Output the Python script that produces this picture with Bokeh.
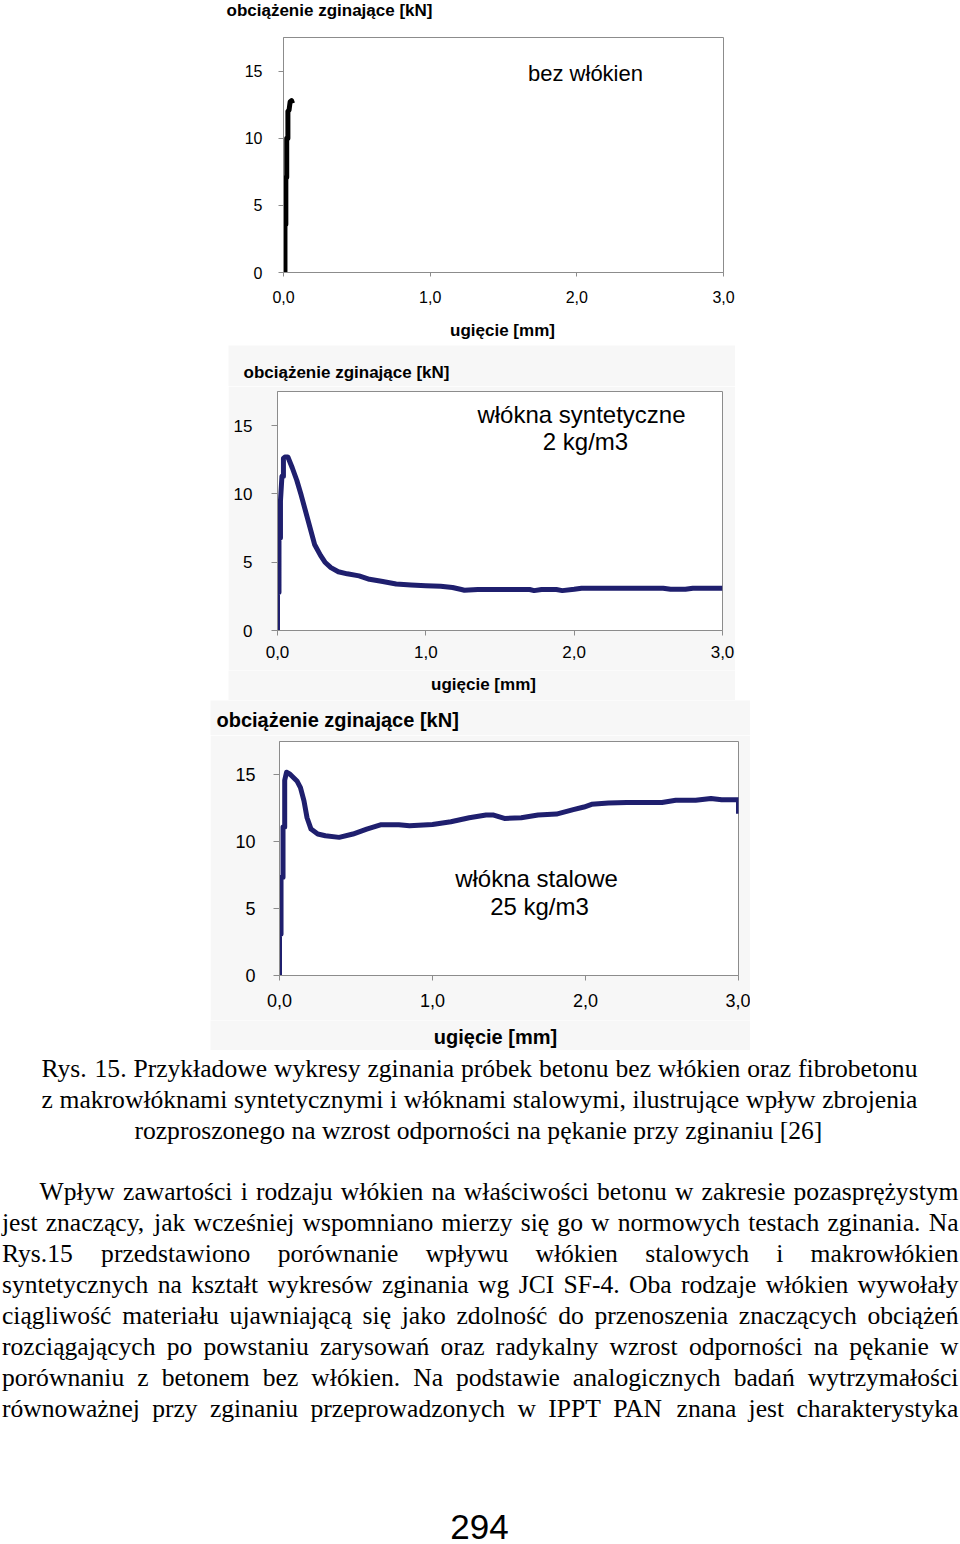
from bokeh.plotting import figure
from bokeh.models import Range1d, FixedTicker, Label, ColumnDataSource, Spacer
from bokeh.layouts import column, row
from bokeh.core.properties import value
from bokeh.embed import file_html
from bokeh.resources import INLINE

# ---------------- data ----------------
x_ticks = [0, 1, 2, 3]
x_tick_labels = ["0,0", "1,0", "2,0", "3,0"]
y_ticks = [0, 5, 10, 15]
y_tick_labels = ["0", "5", "10", "15"]

# chart 1: bez włókien
defl_bez = [0.010, 0.010, 0.016, 0.016, 0.022, 0.022, 0.030, 0.030, 0.038, 0.045, 0.055, 0.062]
load_bez = [0.0, 3.6, 3.6, 7.1, 7.1, 10.0, 10.0, 12.0, 12.1, 12.7, 12.8, 12.6]

# chart 2: włókna syntetyczne 2 kg/m3
defl_syn = [0.0, 0.0, 0.01, 0.01, 0.02, 0.02, 0.03, 0.04, 0.04, 0.05, 0.07, 0.10, 0.13, 0.16,
            0.20, 0.25, 0.29, 0.32, 0.36, 0.41, 0.47, 0.55, 0.62, 0.70, 0.80, 0.90, 1.00, 1.10,
            1.18, 1.24, 1.26, 1.35, 1.50, 1.70, 1.73, 1.78, 1.88, 1.92, 2.00, 2.05, 2.30, 2.60,
            2.65, 2.75, 2.80, 3.00]
load_syn = [0.0, 2.8, 2.8, 6.8, 6.8, 9.5, 11.3, 11.3, 12.6, 12.7, 12.7, 11.9, 11.0, 9.9,
            8.3, 6.3, 5.5, 5.0, 4.6, 4.3, 4.15, 4.0, 3.75, 3.6, 3.4, 3.33, 3.28, 3.24,
            3.15, 3.0, 2.95, 3.0, 3.0, 3.0, 2.92, 3.0, 3.0, 2.92, 3.02, 3.1, 3.1, 3.1,
            3.02, 3.02, 3.1, 3.1]

# chart 3: włókna stalowe 25 kg/m3
defl_st = [0.0, 0.0, 0.01, 0.01, 0.023, 0.023, 0.034, 0.034, 0.046, 0.069, 0.114, 0.137, 0.16,
           0.18, 0.206, 0.25, 0.30, 0.39, 0.48, 0.57, 0.66, 0.78, 0.85, 1.00, 1.12, 1.24, 1.35,
           1.40, 1.47, 1.58, 1.69, 1.81, 1.92, 1.99, 2.04, 2.15, 2.27, 2.50, 2.59, 2.72, 2.82,
           2.89, 3.00, 3.00]
load_st = [0.0, 3.1, 3.1, 7.35, 7.35, 11.1, 11.1, 14.6, 15.2, 15.05, 14.55, 14.05, 13.06,
           11.8, 10.95, 10.58, 10.45, 10.33, 10.58, 10.95, 11.27, 11.27, 11.2, 11.3, 11.5, 11.8, 12.0,
           12.0, 11.75, 11.8, 12.0, 12.07, 12.4, 12.6, 12.8, 12.9, 12.94, 12.94, 13.1, 13.1, 13.24,
           13.14, 13.14, 12.1]

y_title = "obciążenie zginające [kN]"
x_title = "ugięcie [mm]"
label_bez = "bez włókien"
label_syn = ["włókna syntetyczne", "2 kg/m3"]
label_st = ["włókna stalowe", "25 kg/m3"]

caption_lines = [
    "Rys. 15. Przykładowe wykresy zginania próbek betonu bez włókien oraz fibrobetonu",
    "z makrowłóknami syntetycznymi i włóknami stalowymi, ilustrujące wpływ zbrojenia",
    "rozproszonego na wzrost odporności na pękanie przy zginaniu [26]",
]
paragraph_lines = [
    "Wpływ zawartości i rodzaju włókien na właściwości betonu w zakresie pozasprężystym",
    "jest znaczący, jak wcześniej wspomniano mierzy się go w normowych testach zginania. Na",
    "Rys.15 przedstawiono porównanie wpływu włókien stalowych i makrowłókien",
    "syntetycznych na kształt wykresów zginania wg JCI SF-4. Oba rodzaje włókien wywołały",
    "ciągliwość materiału ujawniającą się jako zdolność do przenoszenia znaczących obciążeń",
    "rozciągających po powstaniu zarysowań oraz radykalny wzrost odporności na pękanie w",
    "porównaniu z betonem bez włókien. Na podstawie analogicznych badań wytrzymałości",
    "równoważnej przy zginaniu przeprowadzonych w IPPT PAN znana jest charakterystyka",
]
page_number = "294"

# ---------------- styles ----------------
SANS = "Liberation Sans"
SERIF = "Liberation Serif"
FRAME = "#8c8c8c"
NAVY = "#1f1f6e"
PANEL = "#f7f7f7"


def make_chart(W, H, ml, mr, mt, mb, bg, tick_size, xt_out, yt_out, x_stand, y_stand):
    p = figure(width=W, height=H, x_range=Range1d(0, 3), y_range=Range1d(0, 17.5),
               output_backend="svg", toolbar_location=None, title=None,
               min_border_left=ml, min_border_right=mr, min_border_top=mt, min_border_bottom=mb)
    p.border_fill_color = bg
    p.background_fill_color = "white"
    p.outline_line_color = FRAME
    p.outline_line_width = 1
    p.grid.visible = False
    p.xaxis.ticker = FixedTicker(ticks=x_ticks)
    p.xaxis.major_label_overrides = dict(zip(x_ticks, x_tick_labels))
    p.yaxis.ticker = FixedTicker(ticks=y_ticks)
    p.yaxis.major_label_overrides = dict(zip(y_ticks, y_tick_labels))
    for ax in (p.xaxis, p.yaxis):
        ax.axis_line_color = FRAME
        ax.major_tick_line_color = FRAME
        ax.minor_tick_line_color = None
        ax.major_tick_in = 0
        ax.major_label_text_font = SANS
        ax.major_label_text_font_size = f"{tick_size}px"
        ax.major_label_text_color = "black"
    p.xaxis.major_tick_out = xt_out
    p.yaxis.major_tick_out = yt_out
    p.xaxis.major_label_standoff = x_stand
    p.yaxis.major_label_standoff = y_stand
    return p


def add_text(p, geom, txt, px, py, size):
    # in-frame annotation; geom: (page x of figure, page y of figure, ml, mt, frame height)
    ox, oy, ml, mt, fh = geom
    p.add_layout(Label(x=px - (ox + ml), y=(oy + mt + fh) - py, x_units="screen", y_units="screen",
                       text=txt, text_font=SANS, text_font_size=f"{size}px",
                       text_align="center", text_baseline="middle", text_color="black"))


def strip(x0, y0, w, h, bg, items):
    # a text-only band; its data space is the page's own pixel space
    s = figure(width=w, height=h, x_range=Range1d(x0, x0 + w), y_range=Range1d(y0 + h, y0),
               output_backend="svg", toolbar_location=None, title=None,
               x_axis_type=None, y_axis_type=None, min_border=0)
    s.outline_line_color = None
    s.grid.visible = False
    s.background_fill_color = bg
    s.border_fill_color = bg
    for txt, x, y, size, align in items:
        s.text(x=[x], y=[y], text=[txt], text_font=value(SANS), text_font_size=f"{size}px",
               text_font_style="bold", text_align=align, text_baseline="middle",
               text_color="black")
    return s


# ---------------- chart 1 (page y 0..345) ----------------
s1a = strip(0, 0, 960, 30, "white", [(y_title, 226, 10, 17, "left")])
p1 = make_chart(960, 288, 283, 237, 7, 46, "white", 16, 4, 5, 14, 16)
p1.line(defl_bez, load_bez, line_color="black", line_width=5, line_join="round")
add_text(p1, (0, 30, 283, 7, 235), label_bez, 585, 73, 22)
s1b = strip(0, 318, 960, 27, "white", [(x_title, 502, 330, 17, "center")])

# ---------------- chart 2 (page y 345..700, x 228..735) ----------------
s2a = strip(228, 345, 507, 41, PANEL, [(y_title, 243, 372, 17, "left")])
p2 = make_chart(507, 284, 49, 13, 5, 40, PANEL, 17, 5, 6, 10, 19)
p2.line(defl_syn, load_syn, line_color=NAVY, line_width=5, line_join="round")
add_text(p2, (228, 386, 49, 5, 239), label_syn[0], 581, 414, 24)
add_text(p2, (228, 386, 49, 5, 239), label_syn[1], 585, 441, 24)
s2b = strip(228, 670, 507, 30, PANEL, [(x_title, 483, 684, 17, "center")])

# ---------------- chart 3 (page y 700..1050, x 210..750) ----------------
s3a = strip(210, 700, 540, 35, PANEL, [(y_title, 216, 719, 20, "left")])
p3 = make_chart(540, 285, 69, 12, 6, 45, PANEL, 18, 5, 6, 13, 18)
p3.line(defl_st, load_st, line_color=NAVY, line_width=5, line_join="round")
add_text(p3, (210, 735, 69, 6, 234), label_st[0], 536, 878, 24)
add_text(p3, (210, 735, 69, 6, 234), label_st[1], 539, 906, 24)
s3b = strip(210, 1020, 540, 30, PANEL, [(x_title, 495, 1036, 20, "center")])

# ---------------- text block (page y 1050..1544) ----------------
TIMES = dict(zip("abcdefghijklmnopqrstuvwxyz",
                 [444, 500, 444, 500, 444, 333, 500, 500, 278, 278, 500, 278, 778, 500, 500,
                  500, 500, 333, 389, 278, 500, 500, 722, 500, 500, 444]))
TIMES.update(dict(zip("ABCDEFGHIJKLMNOPQRSTUVWXYZ",
                      [722, 667, 667, 722, 611, 556, 722, 722, 333, 389, 722, 611, 889, 722, 722,
                       556, 722, 667, 556, 611, 722, 722, 944, 722, 722, 611])))
TIMES.update({d: 500 for d in "0123456789"})
TIMES.update({".": 250, ",": 250, "[": 333, "]": 333, "-": 333, " ": 250, ":": 278,
              "ą": 444, "ć": 444, "ę": 444, "ł": 278, "ń": 500, "ó": 500, "ś": 389,
              "ź": 444, "ż": 444})
FS = 25.6


def tw(s):
    return sum(TIMES.get(c, 500) for c in s) / 1000.0 * FS


words_x, words_y, words_t = [], [], []


def justify(line, x0, x1, y):
    ws = line.split()
    total = sum(tw(w) for w in ws)
    gap = (x1 - x0 - total) / (len(ws) - 1)
    x = x0
    for w in ws:
        words_x.append(x)
        words_y.append(y)
        words_t.append(w)
        x += tw(w) + gap


# y values are the visual middles of the lines
justify(caption_lines[0], 41, 917, 1068)
justify(caption_lines[1], 41, 917, 1099)
c3 = caption_lines[2]
words_x.append(478 - tw(c3) / 2)
words_y.append(1130)
words_t.append(c3)

base = 1191
for i, line in enumerate(paragraph_lines):
    justify(line, 39 if i == 0 else 1.5, 958, base + 31 * i)

pt = figure(width=960, height=494, x_range=Range1d(0, 960), y_range=Range1d(1544, 1050),
            output_backend="svg", toolbar_location=None, title=None,
            x_axis_type=None, y_axis_type=None, min_border=0)
pt.outline_line_color = None
pt.grid.visible = False
pt.background_fill_color = "white"
pt.border_fill_color = "white"
src = ColumnDataSource(dict(x=words_x, y=words_y, t=words_t))
pt.text(x="x", y="y", text="t", source=src, text_font=value(SERIF), text_font_size=f"{FS}px",
        text_align="left", text_baseline="middle", text_color="black")
pt.text(x=[479], y=[1526], text=[page_number], text_font=value(SANS), text_font_size="35px",
        text_align="center", text_baseline="middle", text_color="black")


def padded(left, fig, right, h):
    return row(Spacer(width=left, height=h), fig, Spacer(width=right, height=h), spacing=0)


layout = column(
    row(s1a, spacing=0),
    row(p1, spacing=0),
    row(s1b, spacing=0),
    padded(228, s2a, 225, 41),
    padded(228, p2, 225, 284),
    padded(228, s2b, 225, 30),
    padded(210, s3a, 210, 35),
    padded(210, p3, 210, 285),
    padded(210, s3b, 210, 30),
    row(pt, spacing=0),
    spacing=0,
)

open("out.html", "w").write(file_html(layout, INLINE))
